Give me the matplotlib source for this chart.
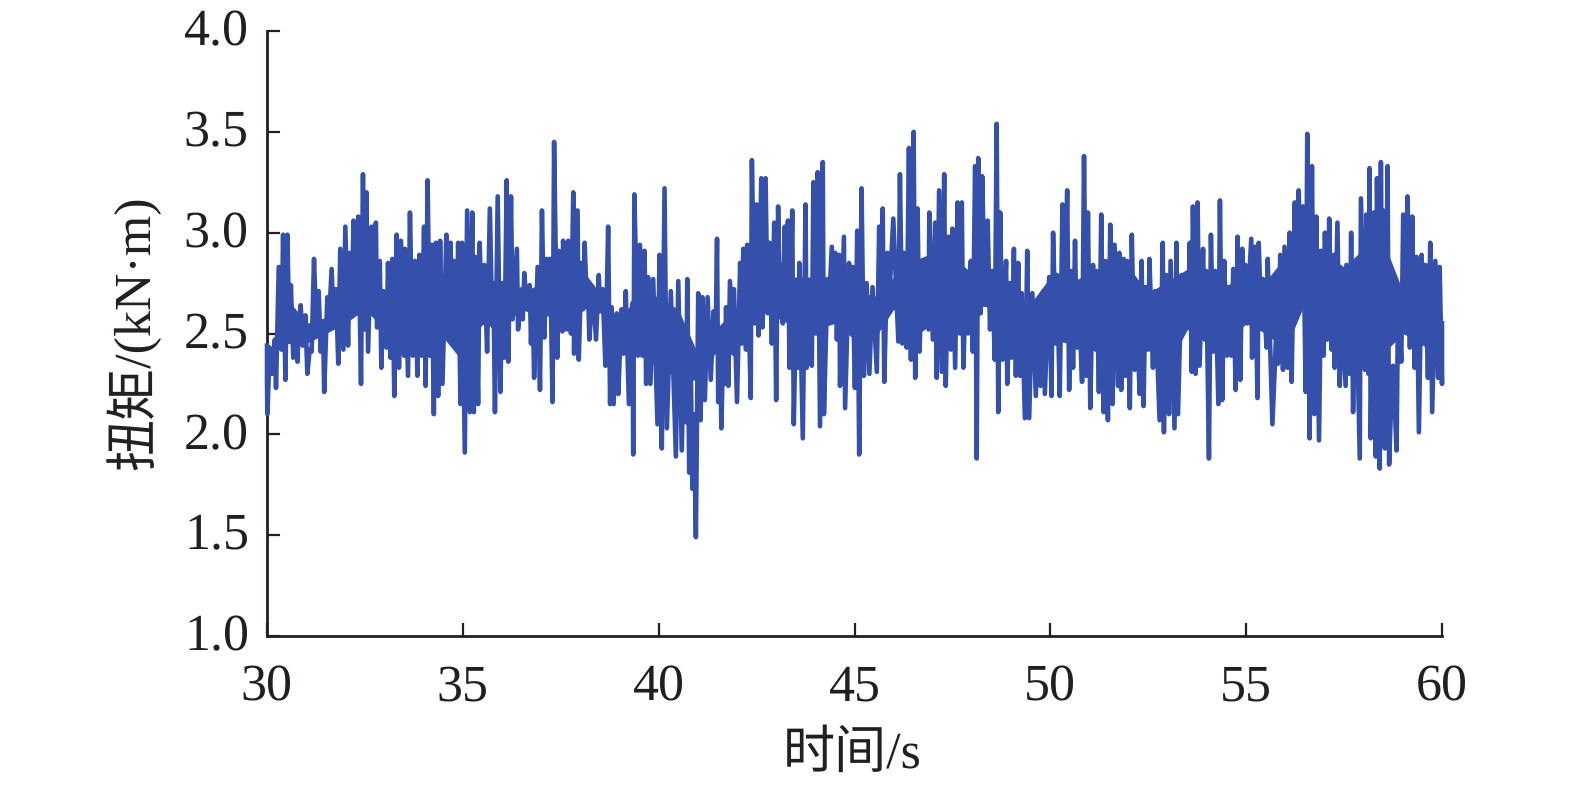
import matplotlib
matplotlib.use("Agg")
import matplotlib.pyplot as plt
from matplotlib.transforms import ScaledTranslation

plt.rcParams['font.family'] = ['Liberation Serif', 'Noto Sans CJK SC', 'DejaVu Sans']
plt.rcParams['text.hinting'] = 'no_hinting'
plt.rcParams['text.hinting_factor'] = 1

x_ticks = [30, 35, 40, 45, 50, 55, 60]
y_ticks = [1.0, 1.5, 2.0, 2.5, 3.0, 3.5, 4.0]
x_label = "时间/s"
y_label = "扭矩/(kN·m)"

time_a = [30.00,30.00,30.01,30.07,30.13,30.20,30.23,30.30,30.37,30.41,30.47,30.52,30.57,30.61,30.67,30.71,30.78,30.81,30.86,30.91,30.98,31.03,31.09,31.14,31.20,31.26,31.32,31.37,31.43,31.46,31.54,31.58,31.65,31.70,31.76,31.82,31.87,31.95,32.00,32.07,32.11,32.16,32.21,32.27,32.33,32.40,32.45,32.50,32.54,32.58,32.67,32.71,32.78,32.81,32.88,32.92,32.97,33.05,33.09,33.15,33.20,33.25,33.31,33.37,33.42,33.50,33.52,33.60,33.65,33.72,33.78,33.84,33.89,33.95,34.01,34.05,34.10,34.16,34.20,34.26,34.31,34.37,34.42,34.48,34.58,34.61,34.69,34.71,34.77,34.84,34.88,34.94,34.98,35.05,35.11,35.18,35.24,35.28,35.32,35.39,35.43,35.49,35.55,35.62,35.69,35.75,35.78,35.82,35.89,35.96,36.00,36.06,36.12,36.16,36.23,36.27,36.38,36.41,36.50,36.53,36.57,36.63,36.71,36.74,36.78,36.82,36.91,36.97,37.02,37.08,37.14,37.18,37.23,37.29,37.33,37.41,37.45,37.54,37.56,37.65,37.69,37.76,37.82,37.84,37.93,37.96,38.03,38.07,38.11,38.17,38.20,38.23,38.32,38.40,38.47,38.51,38.57,38.64,38.71,38.76,38.80,38.85,38.93,38.97,39.05,39.10,39.16,39.24,39.33,39.35,39.38,39.47,39.52,39.58,39.64,39.68,39.73,39.79,39.86]
torque_a = [2.44,2.26,2.10,2.43,2.30,2.47,2.23,2.83,2.42,2.99,2.27,2.99,2.50,2.74,2.38,2.48,2.36,2.55,2.64,2.44,2.59,2.30,2.42,2.41,2.87,2.52,2.71,2.41,2.55,2.21,2.68,2.54,2.82,2.55,2.72,2.35,2.92,2.42,3.03,2.44,2.90,2.60,3.06,2.60,3.08,2.25,3.29,2.52,3.20,2.41,3.03,2.68,3.05,2.53,2.86,2.33,2.71,2.43,2.85,2.38,2.87,2.19,2.99,2.33,2.96,2.39,2.92,2.29,3.10,2.39,2.86,2.29,2.89,2.39,3.03,2.24,3.26,2.39,2.94,2.10,2.95,2.19,2.96,2.25,2.99,2.48,2.95,2.47,2.86,2.46,2.95,2.15,2.95,1.91,3.11,2.11,3.10,2.11,2.88,2.15,2.95,2.55,2.84,2.41,3.12,2.54,2.75,2.11,3.18,2.21,2.75,2.38,3.26,2.36,3.18,2.57,2.92,2.52,2.72,2.57,2.80,2.64,2.74,2.45,2.70,2.28,2.83,2.22,3.11,2.48,2.87,2.60,2.87,2.16,3.45,2.38,2.91,2.51,2.96,2.52,2.96,2.50,3.20,2.40,3.11,2.37,2.85,2.62,2.95,2.63,2.70,2.47,2.73,2.47,2.79,2.61,2.72,2.34,3.03,2.15,2.63,2.15,2.60,2.20,2.62,2.40,2.71,2.15,2.65,1.90,3.19,2.39,2.94,2.39,2.91,2.25,2.78,2.25,2.77]

time_b = [39.97,40.02,40.08,40.15,40.21,40.31,40.44,40.50,40.59,40.65,40.70,40.73,40.78,40.82,40.86,40.90,40.95,41.01,41.07,41.12,41.18,41.25,41.33,41.40,41.45,41.49,41.52,41.57,41.60,41.65,41.69,41.72,41.78,41.82,41.91,41.92,42.00,42.08,42.12,42.16,42.23,42.26,42.35,42.38,42.45,42.50,42.55,42.62,42.65,42.73,42.78,42.83,42.89,42.95,43.00,43.05,43.10,43.14,43.17,43.22,43.27,43.30,43.34,43.41,43.45,43.52,43.57,43.59,43.68,43.75,43.78,43.85,43.91,43.95,44.01,44.06,44.12,44.19,44.22,44.31,44.33,44.42,44.48,44.51,44.55,44.61,44.63,44.73,44.76,44.86,44.91,44.95,45.01,45.07,45.12,45.18,45.24,45.31,45.38,45.46,45.57,45.63,45.67,45.72,45.76,45.84,45.89,45.99,46.12,46.16,46.22,46.26,46.33,46.39,46.44,46.51,46.55,46.61,46.66,46.73,46.89,46.91,47.00,47.06,47.10,47.16,47.23,47.29,47.33,47.40,47.46,47.50,47.57,47.63,47.69,47.74,47.78,47.85,47.90,47.97,48.02,48.08,48.12,48.16,48.22,48.26,48.33,48.40,48.46,48.52,48.58,48.63,48.67,48.72,48.78,48.87,48.90,48.97,49.01,49.07,49.12,49.18,49.23,49.27,49.35,49.41,49.46,49.54,49.63,49.69,49.75,49.82]
torque_b = [2.05,2.89,1.93,3.22,2.03,2.71,1.89,2.76,1.92,2.50,2.06,2.77,1.81,2.35,1.73,2.10,1.49,2.70,2.07,2.68,2.17,2.68,2.27,2.61,2.42,2.97,2.16,2.50,2.03,2.45,2.25,2.63,2.24,2.76,2.40,2.72,2.16,2.85,2.45,2.92,2.42,2.94,2.18,3.36,2.55,3.14,2.49,3.27,2.53,3.27,2.60,2.95,2.45,3.05,2.17,3.13,2.60,2.84,2.55,3.03,2.60,3.06,2.33,3.11,2.05,2.76,2.33,2.85,1.98,3.14,2.33,2.75,2.34,3.25,2.50,3.30,2.04,3.35,2.10,2.77,2.55,2.93,2.60,2.90,2.47,2.89,2.24,2.98,2.13,2.85,2.54,2.83,2.23,3.01,1.90,3.22,2.29,2.75,2.30,2.73,2.31,3.03,2.55,3.12,2.26,2.90,2.68,3.07,2.46,3.29,2.45,2.90,2.43,3.42,2.37,3.50,2.28,3.12,2.41,2.86,2.52,3.10,2.47,3.05,2.28,3.21,2.31,3.29,2.24,2.98,2.42,3.02,2.33,3.15,2.50,3.15,2.33,2.80,2.50,2.86,2.41,3.33,1.88,3.37,2.60,3.28,2.67,3.06,2.52,2.81,2.37,3.54,2.11,3.10,2.37,2.86,2.25,2.75,2.38,2.92,2.29,2.85,2.29,2.70,2.08,2.91,2.08,2.70,2.19,2.65,2.24,2.71]

time_c = [49.86,49.97,50.03,50.07,50.14,50.17,50.24,50.31,50.37,50.43,50.48,50.54,50.58,50.63,50.68,50.73,50.81,50.86,50.92,50.96,51.02,51.09,51.13,51.18,51.24,51.30,51.36,51.41,51.47,51.53,51.59,51.64,51.73,51.76,51.81,51.87,51.92,51.96,52.03,52.08,52.15,52.20,52.28,52.33,52.38,52.43,52.50,52.53,52.62,52.67,52.79,52.87,52.90,52.96,53.03,53.07,53.17,53.22,53.26,53.35,53.41,53.43,53.52,53.56,53.61,53.64,53.71,53.76,53.81,53.90,53.94,53.98,54.05,54.10,54.16,54.21,54.29,54.33,54.39,54.44,54.51,54.55,54.62,54.67,54.73,54.78,54.85,54.90,54.94,54.98,55.02,55.13,55.15,55.22,55.29,55.32,55.39,55.43,55.52,55.55,55.67,55.77,55.81,55.87,55.94,55.98,56.06,56.11,56.16,56.24,56.30,56.34,56.41,56.45,56.52,56.56,56.62,56.68,56.74,56.79,56.86,56.92,56.98,57.01,57.07,57.12,57.18,57.24,57.26,57.33,57.39,57.43,57.54,57.56,57.64,57.68,57.73,57.80,57.90,57.93,58.03,58.07,58.12,58.15,58.18,58.26,58.31,58.34,58.41,58.44,58.47,58.50,58.54,58.61,58.65,58.73,58.75,58.84,58.88,58.96,59.01,59.06,59.12,59.18,59.24,59.30,59.35,59.41,59.48,59.52,59.58,59.64,59.70,59.75,59.83,59.90,59.94,60.00,60.00]
torque_c = [2.20,2.78,2.19,3.00,2.45,2.79,2.19,3.14,2.58,3.21,2.22,2.81,2.33,2.96,2.43,2.66,2.26,3.38,2.29,3.10,2.13,2.84,2.43,2.81,2.21,3.09,2.11,2.86,2.07,3.04,2.15,2.94,2.24,2.90,2.22,2.87,2.29,2.86,2.13,2.99,2.32,2.63,2.20,2.86,2.14,2.73,2.42,2.87,2.33,2.71,2.07,2.95,2.01,2.79,2.10,2.86,2.03,2.95,2.10,2.79,2.62,2.73,2.58,2.95,2.31,3.13,2.30,3.15,2.34,2.92,2.47,2.81,1.88,2.99,2.41,2.81,2.15,3.16,2.17,2.86,2.39,2.73,2.39,2.82,2.22,2.98,2.27,2.92,2.60,2.84,2.55,2.97,2.38,2.93,2.18,2.95,2.53,2.77,2.43,2.87,2.05,2.52,2.35,2.89,2.32,2.93,2.33,3.00,2.26,3.15,2.61,3.21,2.73,3.13,2.21,3.49,1.98,3.33,2.10,3.08,1.97,2.91,2.39,3.00,2.47,3.07,2.42,2.89,2.33,3.05,2.24,2.62,2.24,2.84,2.30,3.00,2.11,2.86,1.88,3.17,2.32,3.09,2.30,3.32,1.98,3.10,1.89,3.27,1.83,3.35,2.40,3.11,1.93,3.33,1.85,2.33,2.34,1.92,2.70,2.36,3.09,2.54,3.18,2.43,3.08,2.33,2.88,2.01,2.89,2.45,2.84,2.28,2.95,2.11,2.86,2.28,2.83,2.25,2.55]

# Solid core of the trace, where the samples are too dense to separate
core_time = [30.5,31,31.5,32,32.5,33,33.5,34,34.5,35,35.5,36,36.5,37,37.5,38,38.5,39,39.5,40,40.5,41,41.5,42,42.5,43,43.5,44,44.5,45,45.5,46,46.5,47,47.5,48,48.5,49,49.5,50,50.5,51,51.5,52,52.5,53,53.5,54,54.5,55,55.5,56,56.5,57,57.5,58,58.5,59,59.5,60]
core_high = [2.68,2.55,2.58,2.78,2.88,2.68,2.77,2.82,2.80,2.78,2.75,2.73,2.70,2.75,2.82,2.83,2.70,2.55,2.72,2.68,2.62,2.40,2.53,2.63,2.85,2.78,2.78,2.78,2.78,2.73,2.68,2.78,2.86,2.90,2.88,2.80,2.82,2.68,2.65,2.78,2.75,2.80,2.81,2.83,2.70,2.76,2.82,2.80,2.73,2.83,2.76,2.88,2.98,2.90,2.83,2.92,2.96,2.71,2.83,2.55]
core_low = [2.45,2.45,2.50,2.55,2.62,2.52,2.48,2.48,2.48,2.36,2.55,2.53,2.62,2.58,2.60,2.63,2.62,2.47,2.48,2.30,2.30,2.26,2.42,2.42,2.62,2.58,2.53,2.52,2.55,2.47,2.47,2.62,2.48,2.55,2.53,2.64,2.63,2.38,2.40,2.47,2.45,2.43,2.36,2.40,2.42,2.34,2.52,2.48,2.45,2.55,2.50,2.42,2.65,2.55,2.50,2.40,2.40,2.50,2.45,2.30]

time_s = time_a + time_b + time_c
torque = torque_a + torque_b + torque_c
n = min(len(time_s), len(torque))

LINE = '#3450aa'
INK = '#231f20'
W, H = 1575, 787
fig = plt.figure(figsize=(W / 100, H / 100), dpi=100, facecolor='white')
ax = fig.add_axes([267 / W, (H - 636) / H, (1442 - 267) / W, (636 - 31) / H])
ax.fill_between(core_time, core_low, core_high, color=LINE, lw=0, zorder=2)
ax.plot(time_s[:n], torque[:n], color=LINE, lw=3.3, clip_on=False, solid_joinstyle='round', zorder=3)
ax.set_xlim(30, 60)
ax.set_ylim(1, 4)
ax.set_xticks(x_ticks)
ax.set_yticks(y_ticks)
ax.set_yticklabels([f"{v:.1f}" for v in y_ticks])
for s in ('top', 'right'):
    ax.spines[s].set_visible(False)
for s in ('left', 'bottom'):
    ax.spines[s].set_linewidth(2.0)
    ax.spines[s].set_color(INK)
ax.tick_params(axis='both', direction='in', length=9.6, width=1.6, color=INK,
               labelsize=37.5, labelcolor=INK)
ax.tick_params(axis='x', pad=20.5)
ax.tick_params(axis='y', pad=13)
shift_down = ScaledTranslation(0, -2 / 100, fig.dpi_scale_trans)
for lab in ax.get_yticklabels():
    lab.set_verticalalignment('center')
    lab.set_transform(lab.get_transform() + shift_down)
fig.text(852 / W, 1 - 755 / H, x_label, ha='center', va='center', fontsize=37.5, color=INK)
fig.text(133 / W, 1 - 333 / H, y_label, ha='center', va='center', rotation=90, fontsize=37.5, color=INK)
fig.savefig('out.png', dpi=100)
